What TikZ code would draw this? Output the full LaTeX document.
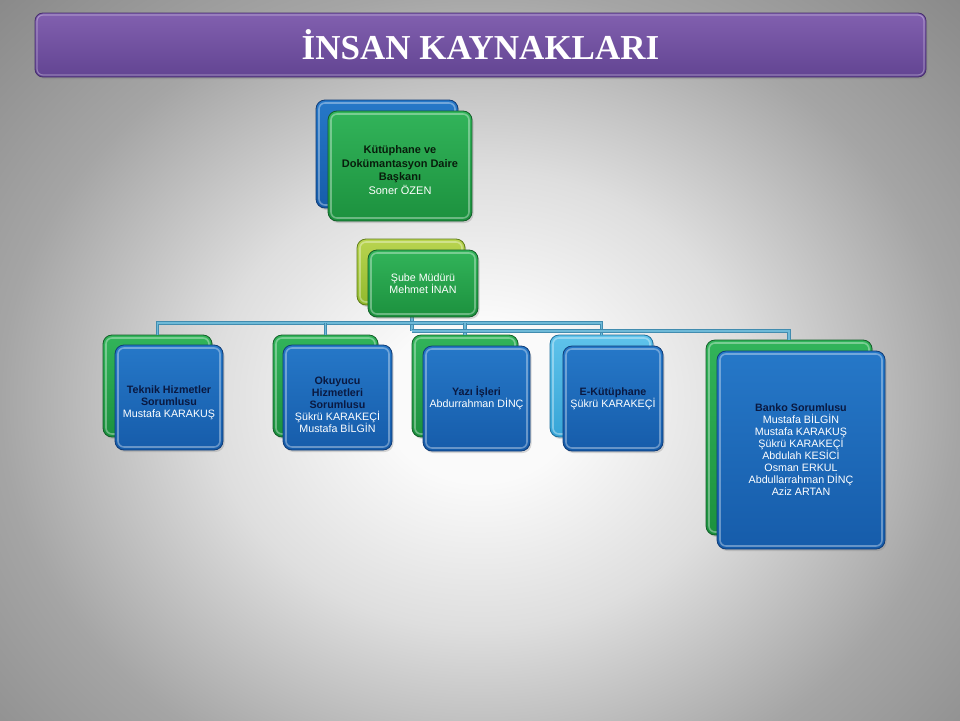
\documentclass[tikz,border=0pt]{standalone}
\usepackage{fontspec}
\setmainfont{Liberation Sans}
\newfontfamily\titlefont{Liberation Serif}
\usetikzlibrary{shadows,calc}
\definecolor{bgin}{RGB}{250,250,250}
\definecolor{bgq}{RGB}{222,222,222}
\definecolor{bgmid}{RGB}{165,165,165}
\definecolor{bgout}{RGB}{135,135,135}
\definecolor{purT}{RGB}{130,96,175}
\definecolor{purB}{RGB}{98,68,146}
\definecolor{purE}{RGB}{70,45,110}
\definecolor{grT}{RGB}{50,180,90}
\definecolor{grB}{RGB}{28,145,62}
\definecolor{grE}{RGB}{18,95,40}
\definecolor{blT}{RGB}{38,120,200}
\definecolor{blB}{RGB}{22,92,170}
\definecolor{blE}{RGB}{15,60,120}
\definecolor{ygT}{RGB}{185,212,80}
\definecolor{ygB}{RGB}{145,185,45}
\definecolor{ygE}{RGB}{95,125,25}
\definecolor{lbT}{RGB}{95,195,235}
\definecolor{lbB}{RGB}{55,165,215}
\definecolor{lbE}{RGB}{30,110,155}
\definecolor{connO}{RGB}{65,140,175}
\definecolor{connI}{RGB}{110,185,215}
\definecolor{navy}{RGB}{10,25,65}
\definecolor{darkg}{RGB}{8,30,12}
\pgfdeclareradialshading{bgshade}{\pgfpoint{0bp}{0bp}}{color(0bp)=(bgin); color(5bp)=(bgin); color(14bp)=(bgq); color(25bp)=(bgmid); color(36bp)=(bgout); color(50bp)=(bgout)}
\newcommand{\bh}[1]{\textbf{\color{navy}#1}}
\newcommand{\bg}[1]{\textbf{\color{darkg}#1}}
\begin{document}
\begin{tikzpicture}[x=1pt,y=-1pt,
  gloss/.style={path picture={\draw[white,opacity=.35,line width=1.6pt,rounded corners=6pt]
     ([shift={(3pt,3pt)}]path picture bounding box.south west) rectangle
     ([shift={(-3pt,-3pt)}]path picture bounding box.north east);}},
  card/.style n args={3}{rounded corners=9pt, top color=#1, bottom color=#2, draw=#3,
     line width=0.8pt, gloss, drop shadow={opacity=0.3,shadow xshift=1.5pt,shadow yshift=-2pt},
     align=center, text=white, inner sep=2pt},
  green card/.style={card={grT}{grB}{grE}},
  blue card/.style={card={blT}{blB}{blE}},
  yg card/.style={card={ygT}{ygB}{ygE}},
  lb card/.style={card={lbT}{lbB}{lbE}},
  txt/.style={font=\fontsize{10.7}{12}\selectfont},
  inlabel/.style={txt, align=center, text=white, inner sep=0pt},
  conn/.style={draw=connO, double=connI, double distance=1.5pt, line width=0.8pt},
  titlebar/.style={rounded corners=8pt, top color=purT, bottom color=purB, draw=purE,
     line width=0.8pt, path picture={\draw[white,opacity=.3,line width=1.2pt,rounded corners=6pt]
     ([shift={(2pt,2pt)}]path picture bounding box.south west) rectangle
     ([shift={(-2pt,-2pt)}]path picture bounding box.north east);},
     drop shadow={opacity=0.35,shadow xshift=1.5pt,shadow yshift=-2pt},
     text=white, font=\titlefont\bfseries\fontsize{35}{40}\selectfont}
]
\useasboundingbox (0,0) rectangle (960,720);
\begin{scope}
\clip (0,0) rectangle (960,720);
\shade[shading=bgshade] (0,-10) rectangle (960,810);
\end{scope}

% title
\node[titlebar, minimum width=891pt, minimum height=64pt] (title) at (480.5,45) {İNSAN KAYNAKLARI};

% top box
\node[blue card, minimum width=142pt, minimum height=108pt] (topB) at (387,154) {};
\node[green card, minimum width=144pt, minimum height=110pt,
  label={[inlabel, font=\fontsize{11}{13.8}\selectfont, yshift=-4pt]center:{\bg{Kütüphane ve}\\ \bg{Dokümantasyon Daire}\\ \bg{Başkanı}\\ Soner ÖZEN}}]
  (topF) at (400,166) {};

% Sube back
\node[yg card, minimum width=108pt, minimum height=66pt] (subeB) at (411,272) {};

% back boxes of row 3
\node[green card, minimum width=109pt, minimum height=102pt] (teknikB) at (157.5,386) {};
\node[green card, minimum width=105pt, minimum height=102pt] (okuB) at (325.5,386) {};
\node[green card, minimum width=106pt, minimum height=102pt] (yaziB) at (465,386) {};
\node[lb card, minimum width=103pt, minimum height=102pt] (ekutB) at (601.5,386) {};
\node[green card, minimum width=166pt, minimum height=195pt] (bankoB) at (789,437.5) {};

% connectors
\coordinate (j1) at (412,323);
\coordinate (j2) at (412,331);
\coordinate (topj) at (412,300);
\draw[conn] (topj) -- (j2);
\draw[conn] (teknikB.north) |- (j1) -| (ekutB.north);
\draw[conn] (okuB.north) -- (okuB.north |- j1);
\draw[conn] (yaziB.north) -- (yaziB.north |- j1);
\draw[conn] (j2) -| (bankoB.north);

% Sube front
\node[green card, minimum width=110pt, minimum height=67pt, txt] (subeF) at (423,283.5)
  {Şube Müdürü\\ Mehmet İNAN};

% front boxes of row 3
\node[blue card, minimum width=108pt, minimum height=105pt,
  label={[inlabel, yshift=-5.5pt]center:{\bh{Teknik Hizmetler}\\ \bh{Sorumlusu}\\ Mustafa KARAKUŞ}}]
  (teknikF) at (169,397.5) {};
\node[blue card, minimum width=109pt, minimum height=105pt,
  label={[inlabel, yshift=-7.5pt]center:{\bh{Okuyucu}\\ \bh{Hizmetleri}\\ \bh{Sorumlusu}\\ Şükrü KARAKEÇİ\\ Mustafa BİLGİN}}]
  (okuF) at (337.5,397.5) {};
\node[blue card, minimum width=107pt, minimum height=105pt, txt] (yaziF) at (476.5,398.5)
  {\bh{Yazı İşleri}\\ Abdurrahman DİNÇ};
\node[blue card, minimum width=100pt, minimum height=105pt, txt] (ekutF) at (613,398.5)
  {\bh{E-Kütüphane}\\ Şükrü KARAKEÇİ};
\node[blue card, minimum width=168pt, minimum height=198pt, txt] (bankoF) at (801,450)
  {\bh{Banko Sorumlusu}\\ Mustafa BİLGİN\\ Mustafa KARAKUŞ\\ Şükrü KARAKEÇİ\\ Abdulah KESİCİ\\ Osman ERKUL\\ Abdullarrahman DİNÇ\\ Aziz ARTAN};
\end{tikzpicture}
\end{document}
